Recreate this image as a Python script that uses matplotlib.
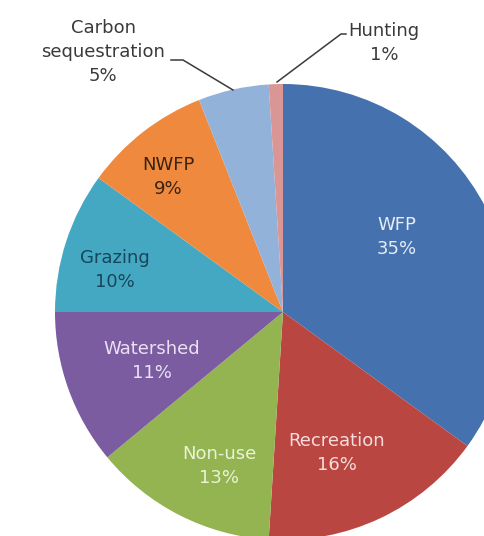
import matplotlib
matplotlib.use("Agg")
import matplotlib.pyplot as plt

categories = ["WFP", "Recreation", "Non-use", "Watershed", "Grazing", "NWFP",
              "Carbon\nsequestration", "Hunting"]
values = [35, 16, 13, 11, 10, 9, 5, 1]
colors = ["#4572AE", "#BA4642", "#93B450", "#7B5CA0", "#45A8C3", "#EE893E",
          "#93B2DA", "#D99694"]
text_colors = ["#E6ECF7", "#F6DCDC", "#EAF3D8", "#EAE2F4", "#17465A", "#3A2210",
               "#3A3A3A", "#3A3A3A"]

W, H = 484, 536
fig = plt.figure(figsize=(W / 100, H / 100), dpi=100)
ax = fig.add_axes([0, 0, 1, 1])

cx, cy, R = 283, H - 312, 228
wedges, _ = ax.pie(values, colors=colors, startangle=90, counterclock=False,
                   radius=R, center=(cx, cy), frame=True,
                   wedgeprops=dict(linewidth=0))
ax.set_xlim(0, W)
ax.set_ylim(0, H)
ax.set_aspect("equal")
ax.axis("off")

# label positions in pixel coords (x, y from top)
label_pos = [(397, 237), (337, 453), (219, 466), (152, 361), (115, 270),
             (168, 177), (103, 52), (384, 43)]
font = ["DejaVu Sans"]
for cat, v, (lx, ly), tc in zip(categories, values, label_pos, text_colors):
    ax.text(lx, H - ly, f"{cat}\n{v}%", ha="center", va="center",
            fontsize=13, color=tc, family=font, linespacing=1.4)

# leader lines
ax.plot([171, 183, 233], [H - 60, H - 60, H - 90], color="#3A3A3A", lw=1.1)
ax.plot([346, 341, 277], [H - 34, H - 34, H - 82], color="#3A3A3A", lw=1.1)

fig.savefig("out.png", dpi=100)
